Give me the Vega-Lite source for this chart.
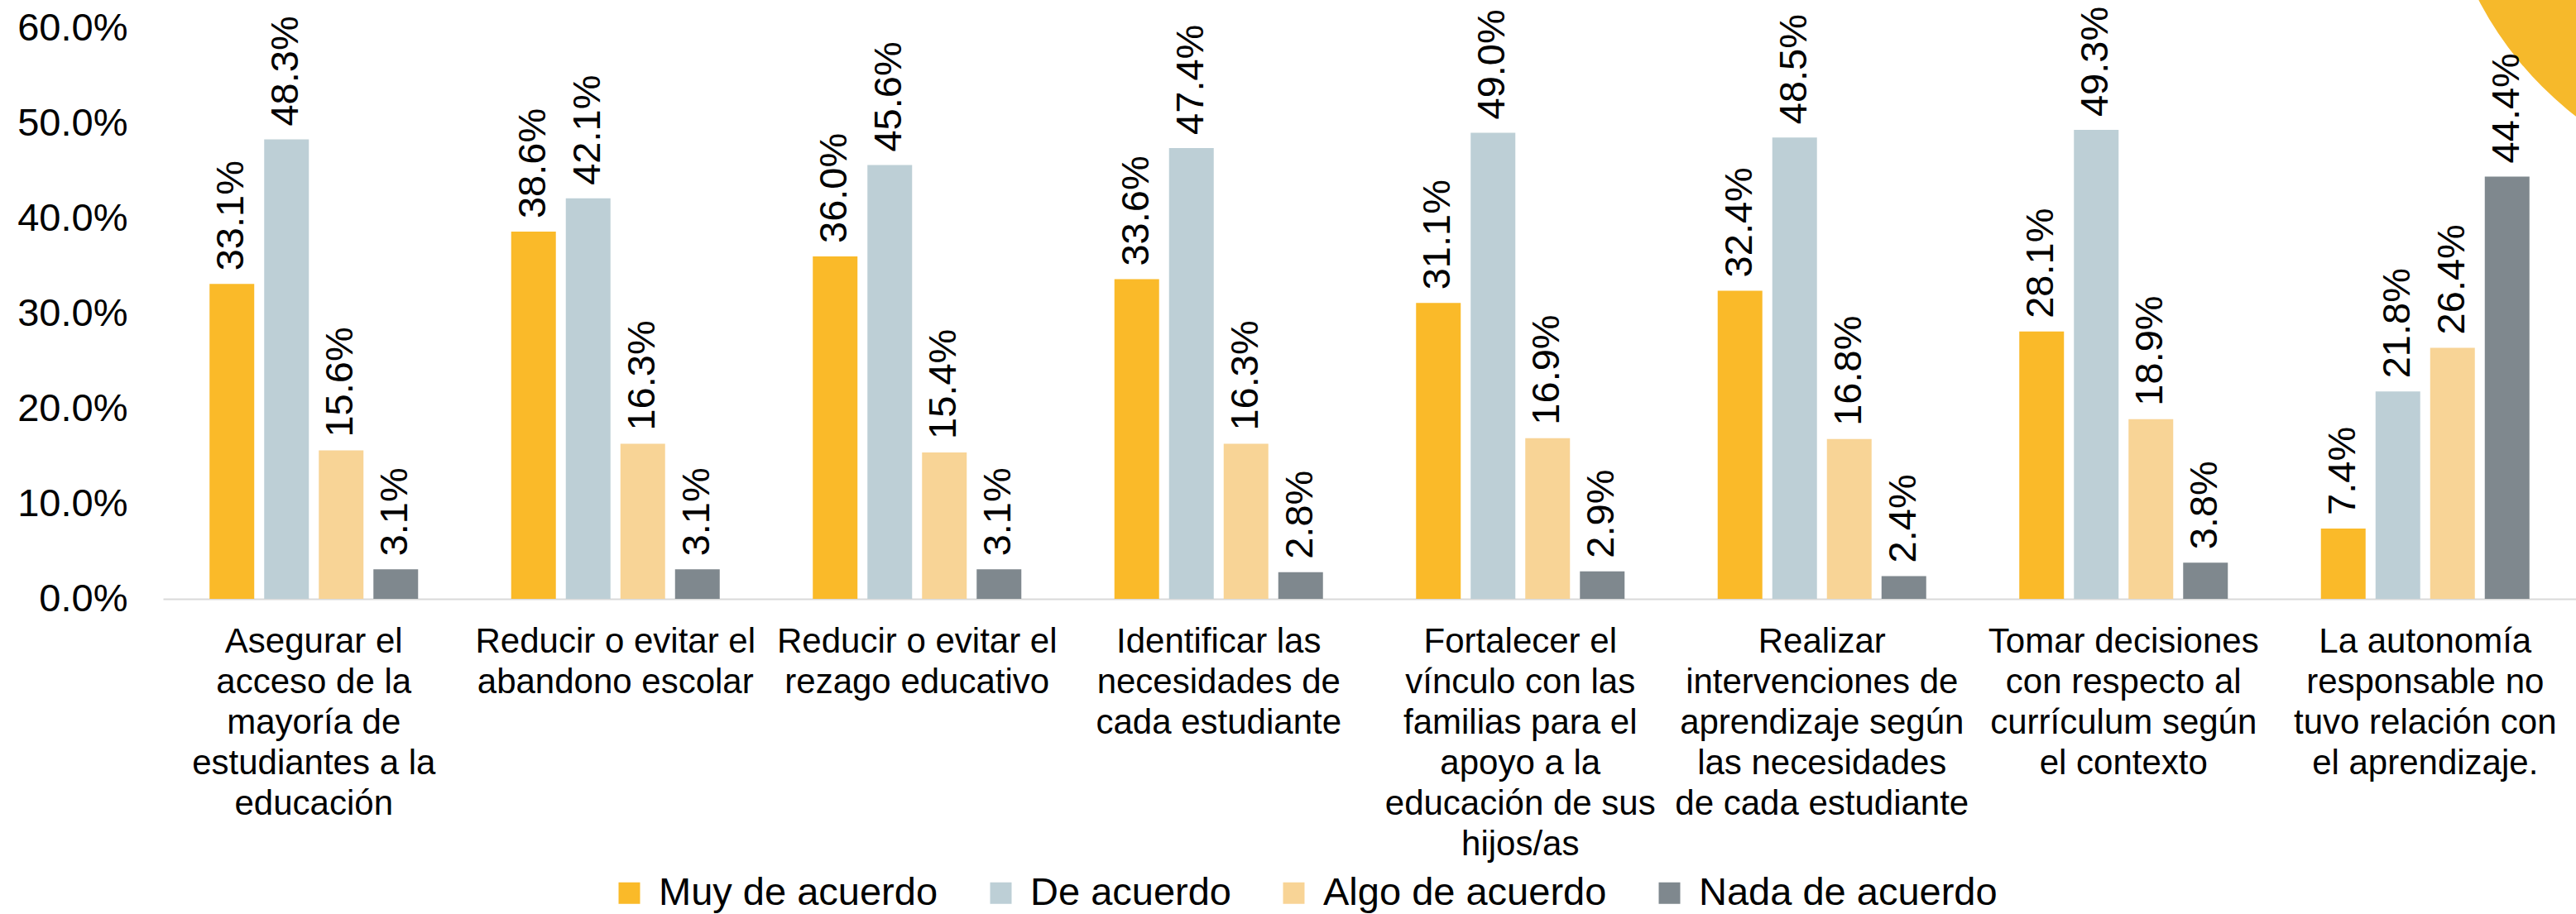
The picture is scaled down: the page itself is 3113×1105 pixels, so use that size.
{
  "$schema": "https://vega.github.io/schema/vega-lite/v6.json",
  "autosize": {"type": "none"},
  "padding": {"left": 197, "top": 34, "right": 0, "bottom": 381},
  "width": 2916,
  "height": 690,
  "background": "#ffffff",
  "config": {
    "view": {"stroke": null},
    "font": "Liberation Sans",
    "text": {"font": "Liberation Sans"}
  },
  "data": {
    "values": [
      {"categoria": "Asegurar el\nacceso de la\nmayoría de\nestudiantes a la\neducación", "respuesta": "Muy de acuerdo", "valor": 0.331},
      {"categoria": "Asegurar el\nacceso de la\nmayoría de\nestudiantes a la\neducación", "respuesta": "De acuerdo", "valor": 0.483},
      {"categoria": "Asegurar el\nacceso de la\nmayoría de\nestudiantes a la\neducación", "respuesta": "Algo de acuerdo", "valor": 0.156},
      {"categoria": "Asegurar el\nacceso de la\nmayoría de\nestudiantes a la\neducación", "respuesta": "Nada de acuerdo", "valor": 0.031},
      {"categoria": "Reducir o evitar el\nabandono escolar", "respuesta": "Muy de acuerdo", "valor": 0.386},
      {"categoria": "Reducir o evitar el\nabandono escolar", "respuesta": "De acuerdo", "valor": 0.421},
      {"categoria": "Reducir o evitar el\nabandono escolar", "respuesta": "Algo de acuerdo", "valor": 0.163},
      {"categoria": "Reducir o evitar el\nabandono escolar", "respuesta": "Nada de acuerdo", "valor": 0.031},
      {"categoria": "Reducir o evitar el\nrezago educativo", "respuesta": "Muy de acuerdo", "valor": 0.360},
      {"categoria": "Reducir o evitar el\nrezago educativo", "respuesta": "De acuerdo", "valor": 0.456},
      {"categoria": "Reducir o evitar el\nrezago educativo", "respuesta": "Algo de acuerdo", "valor": 0.154},
      {"categoria": "Reducir o evitar el\nrezago educativo", "respuesta": "Nada de acuerdo", "valor": 0.031},
      {"categoria": "Identificar las\nnecesidades de\ncada estudiante", "respuesta": "Muy de acuerdo", "valor": 0.336},
      {"categoria": "Identificar las\nnecesidades de\ncada estudiante", "respuesta": "De acuerdo", "valor": 0.474},
      {"categoria": "Identificar las\nnecesidades de\ncada estudiante", "respuesta": "Algo de acuerdo", "valor": 0.163},
      {"categoria": "Identificar las\nnecesidades de\ncada estudiante", "respuesta": "Nada de acuerdo", "valor": 0.028},
      {"categoria": "Fortalecer el\nvínculo con las\nfamilias para el\napoyo a la\neducación de sus\nhijos/as", "respuesta": "Muy de acuerdo", "valor": 0.311},
      {"categoria": "Fortalecer el\nvínculo con las\nfamilias para el\napoyo a la\neducación de sus\nhijos/as", "respuesta": "De acuerdo", "valor": 0.490},
      {"categoria": "Fortalecer el\nvínculo con las\nfamilias para el\napoyo a la\neducación de sus\nhijos/as", "respuesta": "Algo de acuerdo", "valor": 0.169},
      {"categoria": "Fortalecer el\nvínculo con las\nfamilias para el\napoyo a la\neducación de sus\nhijos/as", "respuesta": "Nada de acuerdo", "valor": 0.029},
      {"categoria": "Realizar\nintervenciones de\naprendizaje según\nlas necesidades\nde cada estudiante", "respuesta": "Muy de acuerdo", "valor": 0.324},
      {"categoria": "Realizar\nintervenciones de\naprendizaje según\nlas necesidades\nde cada estudiante", "respuesta": "De acuerdo", "valor": 0.485},
      {"categoria": "Realizar\nintervenciones de\naprendizaje según\nlas necesidades\nde cada estudiante", "respuesta": "Algo de acuerdo", "valor": 0.168},
      {"categoria": "Realizar\nintervenciones de\naprendizaje según\nlas necesidades\nde cada estudiante", "respuesta": "Nada de acuerdo", "valor": 0.024},
      {"categoria": "Tomar decisiones\ncon respecto al\ncurrículum según\nel contexto", "respuesta": "Muy de acuerdo", "valor": 0.281},
      {"categoria": "Tomar decisiones\ncon respecto al\ncurrículum según\nel contexto", "respuesta": "De acuerdo", "valor": 0.493},
      {"categoria": "Tomar decisiones\ncon respecto al\ncurrículum según\nel contexto", "respuesta": "Algo de acuerdo", "valor": 0.189},
      {"categoria": "Tomar decisiones\ncon respecto al\ncurrículum según\nel contexto", "respuesta": "Nada de acuerdo", "valor": 0.038},
      {"categoria": "La autonomía\nresponsable no\ntuvo relación con\nel aprendizaje.", "respuesta": "Muy de acuerdo", "valor": 0.074},
      {"categoria": "La autonomía\nresponsable no\ntuvo relación con\nel aprendizaje.", "respuesta": "De acuerdo", "valor": 0.218},
      {"categoria": "La autonomía\nresponsable no\ntuvo relación con\nel aprendizaje.", "respuesta": "Algo de acuerdo", "valor": 0.264},
      {"categoria": "La autonomía\nresponsable no\ntuvo relación con\nel aprendizaje.", "respuesta": "Nada de acuerdo", "valor": 0.444}
    ]
  },
  "layer": [
    {
      "data": {"values": [{"forma": "decoración"}]},
      "mark": {"type": "point", "shape": "circle", "filled": true, "size": 722500, "opacity": 1, "color": "#F6B92B", "clip": false},
      "encoding": {
        "x": {"datum": 1.089, "type": "quantitative", "scale": {"domain": [0, 1], "nice": false, "zero": false}, "axis": null},
        "y": {"datum": 0.8, "type": "quantitative"}
      }
    },
    {
      "encoding": {
        "x": {
          "field": "categoria",
          "type": "nominal",
          "sort": null,
          "scale": {"paddingInner": 0, "paddingOuter": 0},
          "axis": {
            "title": null,
            "labelAngle": 0,
            "labelExpr": "split(datum.label, '\\n')",
            "labelFont": "Liberation Sans",
            "labelFontSize": 42,
            "labelLineHeight": 49,
            "labelColor": "#000000",
            "labelPadding": 31,
            "labelLimit": 1000,
            "labelBaseline": "top",
            "ticks": false,
            "tickSize": 0,
            "domainColor": "#D9D9D9",
            "domainWidth": 2,
            "grid": false
          }
        },
        "xOffset": {
          "field": "respuesta",
          "type": "nominal",
          "sort": ["Muy de acuerdo", "De acuerdo", "Algo de acuerdo", "Nada de acuerdo"],
          "scale": {"paddingInner": 0.182, "paddingOuter": 0.852}
        },
        "y": {
          "field": "valor",
          "type": "quantitative",
          "scale": {"domain": [0, 0.6], "nice": false},
          "axis": {
            "title": null,
            "format": ".1%",
            "values": [0, 0.1, 0.2, 0.3, 0.4, 0.5, 0.6],
            "grid": false,
            "domain": false,
            "ticks": false,
            "tickSize": 0,
            "labelFont": "Liberation Sans",
            "labelFontSize": 47,
            "labelColor": "#000000",
            "labelPadding": 43
          }
        }
      },
      "layer": [
        {
          "mark": {"type": "bar"},
          "encoding": {
            "color": {
              "field": "respuesta",
              "type": "nominal",
              "sort": ["Muy de acuerdo", "De acuerdo", "Algo de acuerdo", "Nada de acuerdo"],
              "scale": {
                "domain": ["Muy de acuerdo", "De acuerdo", "Algo de acuerdo", "Nada de acuerdo"],
                "range": ["#FABA29", "#BDCFD6", "#F8D496", "#7F888E"]
              },
              "legend": {
                "title": null,
                "orient": "none",
                "legendX": 540,
                "legendY": 1022,
                "direction": "horizontal",
                "padding": 0,
                "symbolType": "square",
                "symbolSize": 676,
                "symbolStrokeWidth": 0,
                "labelFont": "Liberation Sans",
                "labelFontSize": 47,
                "labelColor": "#000000",
                "labelOffset": 12,
                "labelLimit": 1000,
                "columnPadding": 52
              }
            }
          }
        },
        {
          "mark": {"type": "text", "angle": 270, "align": "left", "baseline": "middle", "dx": 16, "fontSize": 47, "font": "Liberation Sans", "color": "#000000"},
          "encoding": {
            "text": {"field": "valor", "type": "quantitative", "format": ".1%"}
          }
        }
      ]
    }
  ],
  "resolve": {"scale": {"x": "independent"}}
}
